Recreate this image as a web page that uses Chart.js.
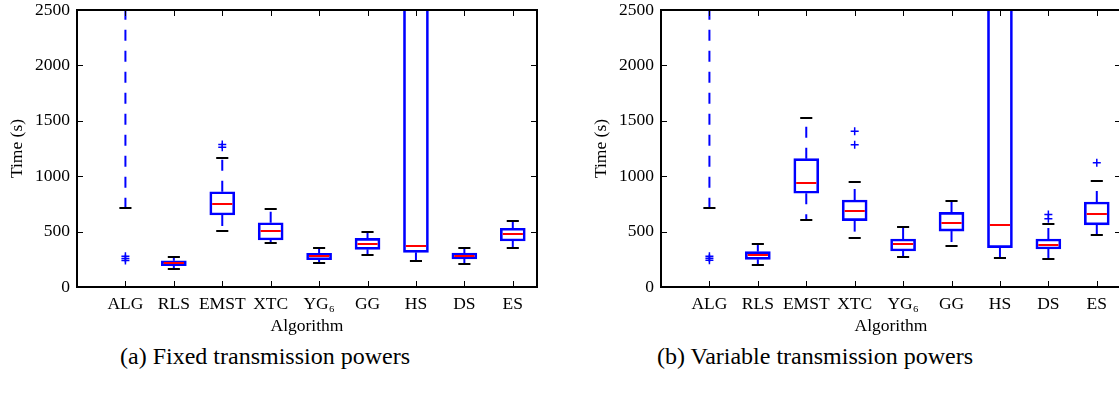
<!DOCTYPE html>
<html>
<head>
<meta charset="utf-8">
<script src="https://cdn.jsdelivr.net/npm/chart.js@4.4.0/dist/chart.umd.min.js"></script>
<style>
body{margin:0;background:#fff;width:1119px;height:396px;overflow:hidden;position:relative;font-family:'Liberation Serif',serif;}
canvas{position:absolute;top:0;}
.cap{position:absolute;top:343px;width:500px;text-align:center;font-size:24px;color:#000;}
</style>
</head>
<body>
<canvas id="fixed" width="560" height="340" style="left:0"></canvas>
<canvas id="variable" width="560" height="340" style="left:584px"></canvas>
<div class="cap" style="left:15px">(a) Fixed transmission powers</div>
<div class="cap" style="left:565px">(b) Variable transmission powers</div>
<script>
var categories = ['ALG', 'RLS', 'EMST', 'XTC', 'YG\u2086', 'GG', 'HS', 'DS', 'ES'];
var yTicks = [0, 500, 1000, 1500, 2000, 2500];

// (a) fixed transmission powers
var fixedLow  = [710, 160, 508, 400, 219, 286, 237, 210, 355];
var fixedQ1   = [2700, 192, 650, 424, 246, 340, 313, 253, 415];
var fixedMed  = [3000, 219, 752, 508, 277, 385, 373, 283, 475];
var fixedQ3   = [3400, 237, 860, 580, 304, 439, 2900, 307, 530];
var fixedHigh = [3800, 271, 1164, 704, 355, 493, 3200, 349, 596];
var fixedOut  = [[240, 258, 278], [], [1262, 1285], [], [], [], [], [], []];

// (b) variable transmission powers
var varLow  = [710, 196, 605, 442, 271, 373, 265, 250, 472];
var varQ1   = [2700, 250, 846, 599, 325, 505, 355, 343, 560];
var varMed  = [3000, 289, 941, 686, 388, 580, 560, 382, 656];
var varQ3   = [3400, 319, 1158, 785, 433, 674, 2900, 433, 767];
var varHigh = [3800, 388, 1522, 945, 544, 776, 3200, 569, 957];
var varOut  = [[242, 260, 278], [], [], [1284, 1405], [], [], [], [615, 655], [1122]];

Chart.defaults.font.family = "'Liberation Serif', serif";
Chart.defaults.font.size = 17.5;
Chart.defaults.color = '#000';

function makeChart(id, low, q1, med, q3, high, out){
	var boxes = [];
	var fliers = [];
	for(var i = 0; i < categories.length; i++){
		boxes.push({x: i + 1, y: [q1[i], q3[i]]});
		for(var k = 0; k < out[i].length; k++){
			fliers.push({x: i + 1, y: out[i][k]});
		}
	}

	var boxPlugin = {
		id: 'boxplot' + id,
		beforeDatasetsDraw: function(chart){
			var ctx = chart.ctx, a = chart.chartArea;
			var xs = chart.scales.x, ys = chart.scales.y;
			ctx.save();
			ctx.beginPath();
			ctx.rect(a.left, a.top, a.right - a.left, a.bottom - a.top);
			ctx.clip();
			for(var i = 0; i < categories.length; i++){
				var px = xs.getPixelForValue(i + 1);
				// whiskers
				ctx.strokeStyle = '#0000ff';
				ctx.lineWidth = 2;
				ctx.setLineDash([11, 10]);
				ctx.beginPath();
				ctx.moveTo(px, ys.getPixelForValue(q1[i]));
				ctx.lineTo(px, ys.getPixelForValue(low[i]));
				ctx.stroke();
				ctx.beginPath();
				ctx.moveTo(px, ys.getPixelForValue(q3[i]));
				ctx.lineTo(px, ys.getPixelForValue(high[i]));
				ctx.stroke();
				// caps
				ctx.setLineDash([]);
				ctx.strokeStyle = '#000';
				var c0 = xs.getPixelForValue(i + 1 - 0.125), c1 = xs.getPixelForValue(i + 1 + 0.125);
				[low[i], high[i]].forEach(function(v){
					var py = Math.round(ys.getPixelForValue(v));
					ctx.beginPath();
					ctx.moveTo(c0, py);
					ctx.lineTo(c1, py);
					ctx.stroke();
				});
			}
			ctx.restore();
		},
		afterDatasetsDraw: function(chart){
			var ctx = chart.ctx, a = chart.chartArea;
			var xs = chart.scales.x, ys = chart.scales.y;
			ctx.save();
			ctx.beginPath();
			ctx.rect(a.left, a.top, a.right - a.left, a.bottom - a.top);
			ctx.clip();
			// medians
			ctx.strokeStyle = '#ff0000';
			ctx.lineWidth = 2;
			for(var i = 0; i < categories.length; i++){
				var py = Math.round(ys.getPixelForValue(med[i]));
				ctx.beginPath();
				ctx.moveTo(xs.getPixelForValue(i + 1 - 0.25) + 2, py);
				ctx.lineTo(xs.getPixelForValue(i + 1 + 0.25) - 2, py);
				ctx.stroke();
			}
			ctx.restore();

			// frame and inward ticks
			ctx.save();
			ctx.strokeStyle = '#000';
			ctx.lineWidth = 1;
			for(var j = 0; j < yTicks.length; j++){
				var ty = Math.round(ys.getPixelForValue(yTicks[j])) + 0.5;
				ctx.beginPath();
				ctx.moveTo(a.left, ty); ctx.lineTo(a.left + 6, ty);
				ctx.moveTo(a.right, ty); ctx.lineTo(a.right - 6, ty);
				ctx.stroke();
			}
			for(var i = 0; i < categories.length; i++){
				var tx = Math.round(xs.getPixelForValue(i + 1)) + 0.5;
				ctx.beginPath();
				ctx.moveTo(tx, a.bottom); ctx.lineTo(tx, a.bottom - 6);
				ctx.moveTo(tx, a.top); ctx.lineTo(tx, a.top + 6);
				ctx.stroke();
			}
			ctx.lineWidth = 2;
			ctx.strokeRect(a.left, a.top, a.right - a.left, a.bottom - a.top);
			ctx.restore();
		}
	};

	return new Chart(document.getElementById(id), {
		type: 'bar',
		data: {
			datasets: [{
				type: 'bar',
				data: boxes,
				backgroundColor: 'rgba(0,0,0,0)',
				borderColor: '#0000ff',
				borderWidth: 2,
				borderSkipped: false,
				barThickness: 25,
				grouped: false
			}, {
				type: 'scatter',
				data: fliers,
				pointStyle: 'cross',
				radius: 4,
				borderColor: '#0000ff',
				borderWidth: 1.5,
				showLine: false
			}]
		},
		options: {
			responsive: false,
			animation: false,
			layout: {padding: {left: 0, right: 23, top: 10, bottom: 0}},
			plugins: {legend: {display: false}, tooltip: {enabled: false}},
			scales: {
				x: {
					type: 'linear',
					offset: false,
					min: 0,
					max: 9.5,
					grid: {display: false, drawTicks: false, offset: false},
					border: {display: false},
					afterBuildTicks: function(s){
						s.ticks = categories.map(function(c, i){ return {value: i + 1}; });
					},
					afterFit: function(s){
						s.height = 53;
						s.paddingLeft = 0; s.paddingRight = 0;
						s.paddingTop = 0; s.paddingBottom = 0;
					},
					ticks: {
						padding: 7,
						autoSkip: false,
						maxRotation: 0,
						callback: function(v){ return categories[v - 1]; }
					},
					title: {display: true, text: 'Algorithm', padding: {top: 0, bottom: 3}}
				},
				y: {
					min: 0,
					max: 2500,
					grid: {display: false, drawTicks: false},
					border: {display: false},
					afterBuildTicks: function(s){
						s.ticks = yTicks.map(function(v){ return {value: v}; });
					},
					afterFit: function(s){
						s.width = 77;
						s.paddingLeft = 0; s.paddingRight = 0;
						s.paddingTop = 0; s.paddingBottom = 0;
					},
					ticks: {padding: 7, callback: function(v){ return String(v); }},
					title: {display: true, text: 'Time (s)', padding: {top: 7, bottom: 0}}
				}
			}
		},
		plugins: [boxPlugin]
	});
}

makeChart('fixed', fixedLow, fixedQ1, fixedMed, fixedQ3, fixedHigh, fixedOut);
makeChart('variable', varLow, varQ1, varMed, varQ3, varHigh, varOut);
</script>
</body>
</html>
